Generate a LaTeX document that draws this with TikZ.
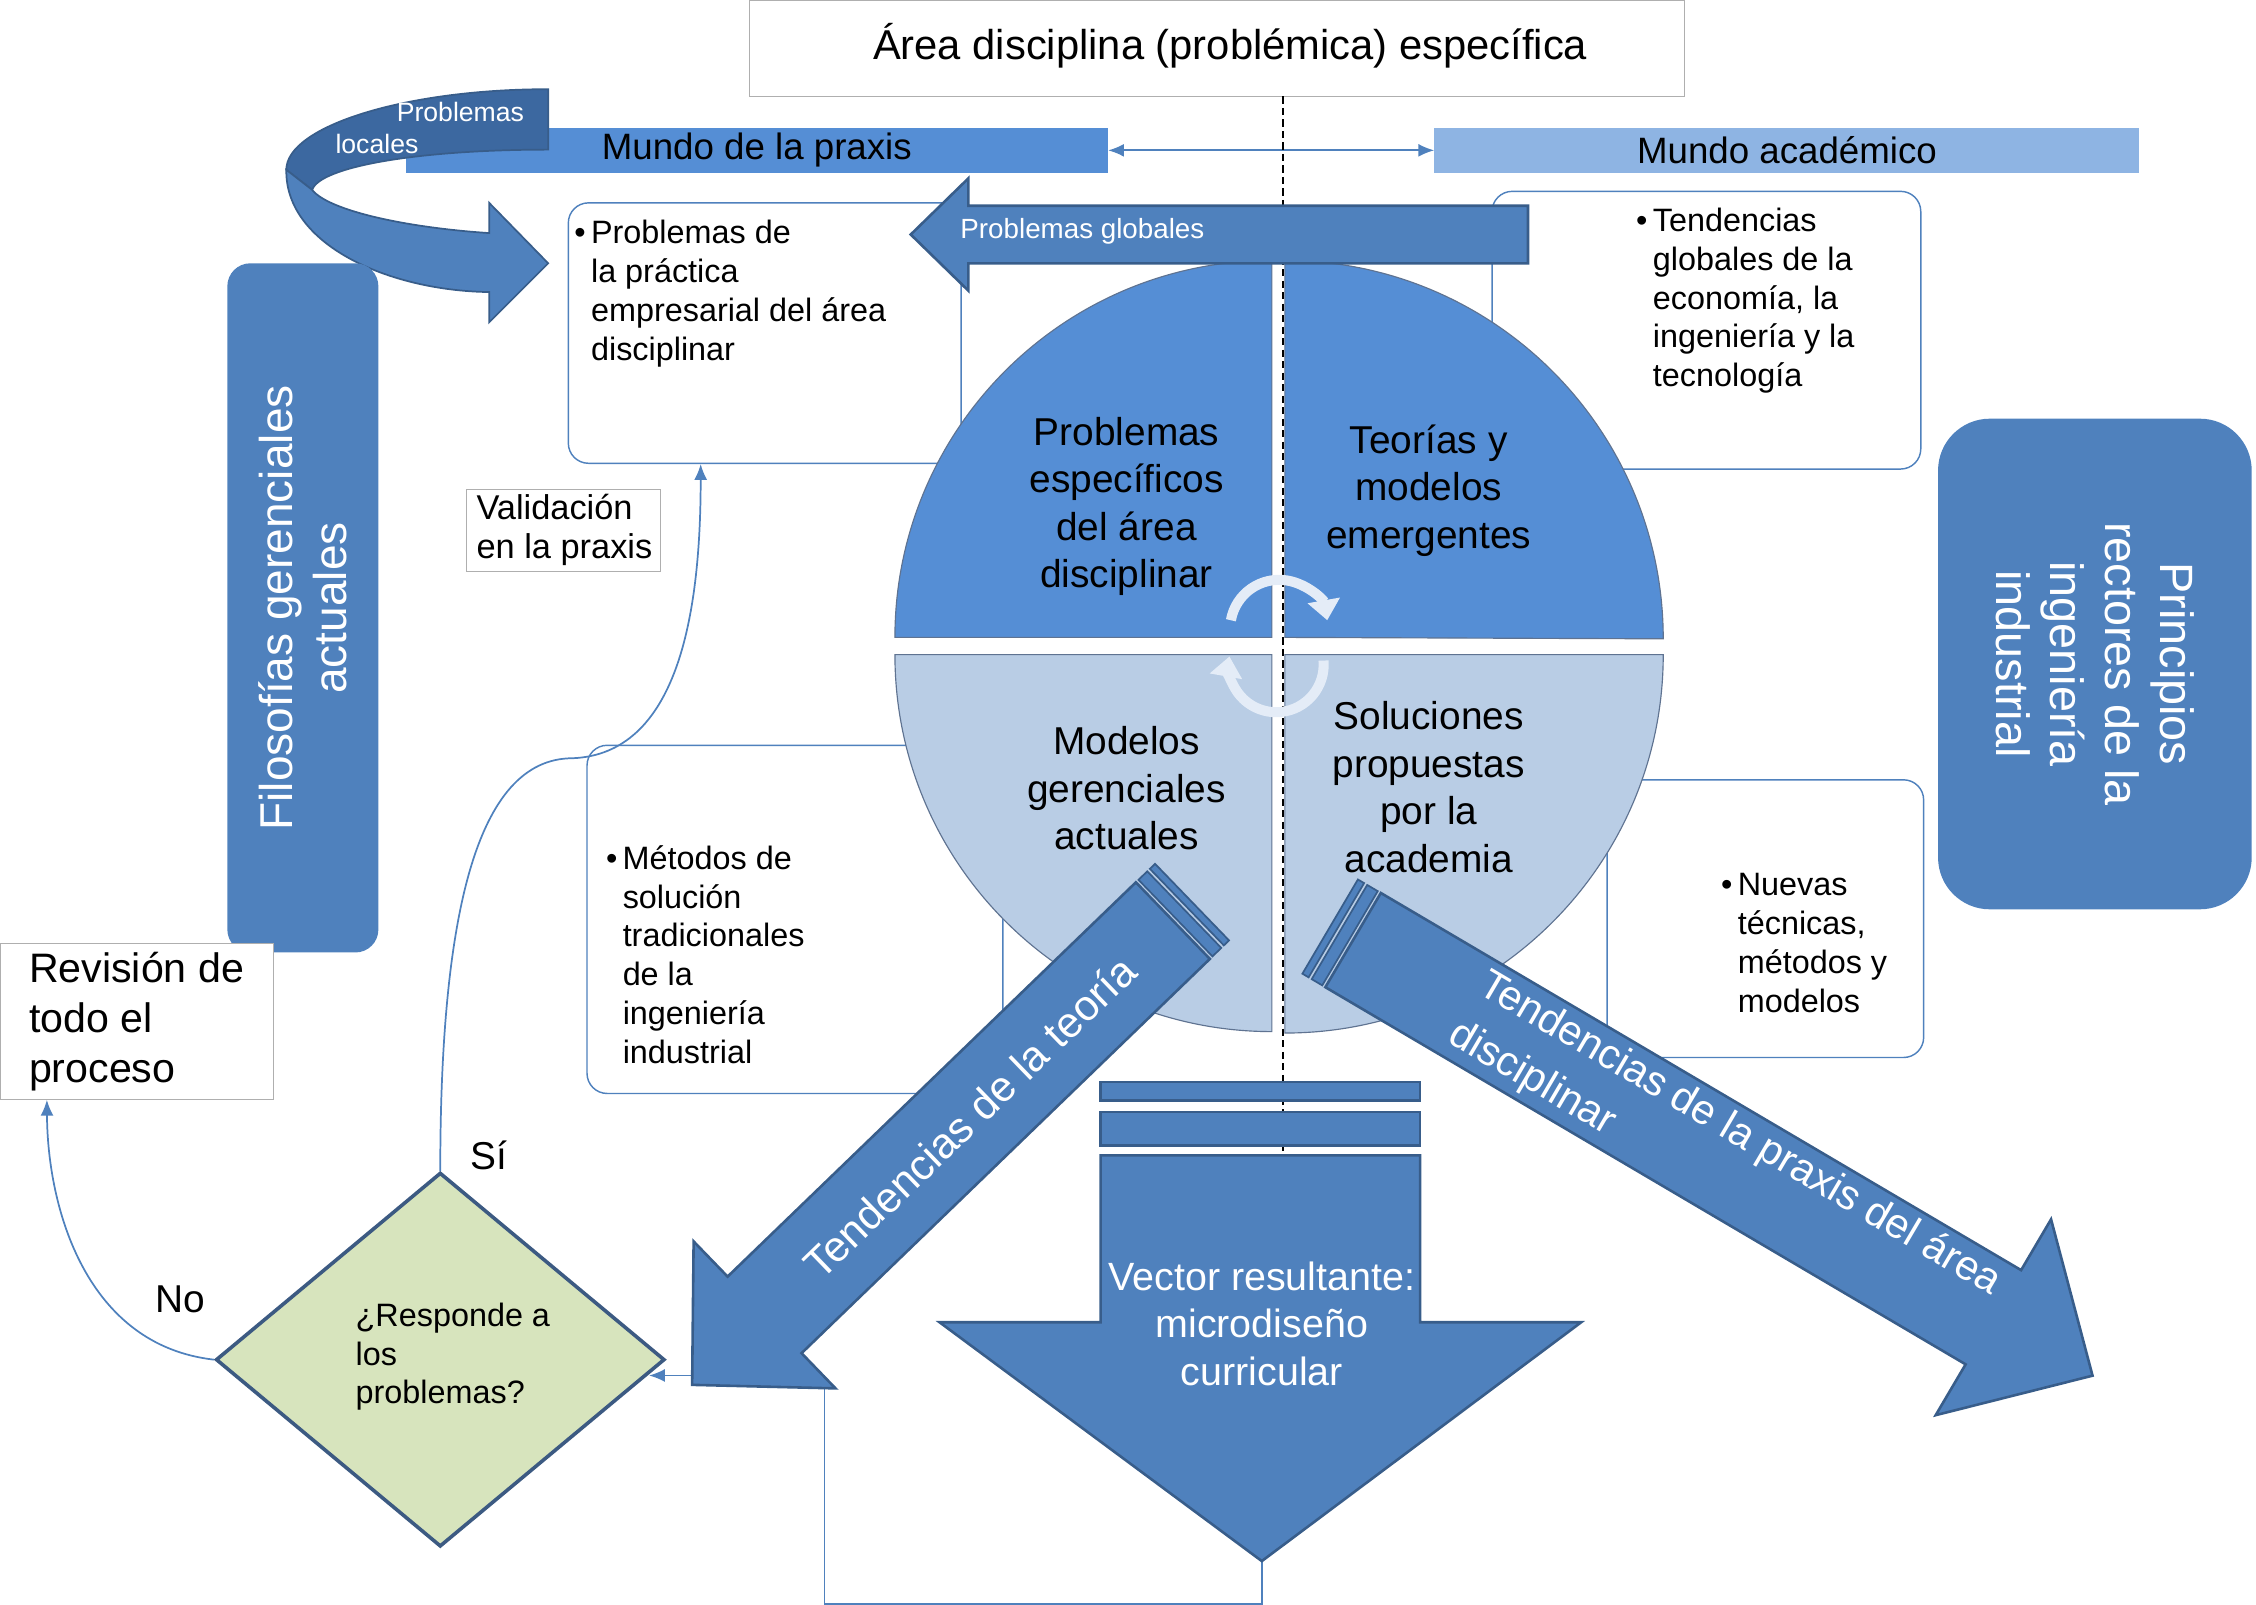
\documentclass[tikz,border=0pt]{standalone}
\usepackage{fontspec}
\setmainfont{Liberation Sans}
\usetikzlibrary{arrows.meta,shapes.geometric,positioning}
\definecolor{praxisblue}{RGB}{85,142,213}
\definecolor{acadblue}{RGB}{142,180,227}
\definecolor{arrowblue}{RGB}{79,129,189}
\definecolor{arrowline}{RGB}{56,93,138}
\definecolor{ribbondark}{RGB}{60,104,160}
\definecolor{quadlight}{RGB}{185,205,229}
\definecolor{quadline}{RGB}{95,115,145}
\definecolor{graybord}{RGB}{175,175,175}
\definecolor{diamfill}{RGB}{215,228,189}
\definecolor{diamline}{RGB}{60,90,130}
\definecolor{cycwhite}{RGB}{228,236,247}
\newcommand{\fsz}[2]{\fontsize{#1}{#2}\selectfont}
\newcommand{\bind}{\hphantom{\textbullet\,}}
\tikzset{
    topbox/.style={rectangle, draw=graybord, fill=white, line width=0.8pt, inner sep=0pt},
    bar/.style={rectangle, inner sep=0pt, minimum height=31pt, font=\fsz{25.5}{30}},
    bulbox/.style={rectangle, draw=arrowblue, fill=white, rounded corners=14pt, line width=1pt},
    bultext/.style={anchor=west, align=left, inner sep=0pt, font=\fsz{22.5}{27}},
    quadtext/.style={align=center, inner sep=0pt, font=\fsz{27}{33}},
    sidebox/.style={rectangle, fill=arrowblue, text=white, align=center},
    graybox/.style={rectangle, draw=graybord, fill=white, line width=0.8pt},
    blockarrow/.style={fill=arrowblue, draw=arrowline, line width=1.8pt, line join=miter},
    stripe/.style={fill=arrowblue, draw=arrowline, line width=1.2pt},
    divider/.style={draw=black, dash pattern=on 5pt off 3pt, line width=1.3pt},
    cyc/.style={draw=cycwhite, line width=7pt, -{Triangle[length=14pt,width=22pt]}},
    conn/.style={->, draw=arrowblue, line width=1.2pt},
    dbl/.style={<->, draw=arrowblue, line width=1.2pt}
}
\begin{document}
\begin{tikzpicture}[x=1pt, y=-1pt, >={Latex[length=11pt,width=9pt]}]
\useasboundingbox (0,0) rectangle (1568,1115.5);

\node[topbox, minimum width=650pt, minimum height=67pt] (area) at (846,33.5) {};
\node[font=\fsz{29}{34}] (areatxt) at (855,32) {Área disciplina (problémica) específica};
\node[bar, fill=praxisblue, minimum width=488pt] (praxis) at (526,104.5) {Mundo de la praxis};
\node[bar, fill=acadblue, minimum width=490pt] (acad) at (1242,104.5) {Mundo académico};
\draw[dbl] (praxis) -- (acad);

\node[bulbox, minimum width=273pt, minimum height=181pt] (pract) at (531.5,231.5) {};
\node[bultext] (practtxt) at (399,204) {\textbullet\,Problemas de\\\bind la práctica\\\bind empresarial del área\\\bind disciplinar};
\node[bulbox, minimum width=298pt, minimum height=193pt] (glob) at (1186,229.5) {};
\node[bultext] (globtxt) at (1137,209) {\textbullet\,Tendencias\\\bind globales de la\\\bind economía, la\\\bind ingeniería y la\\\bind tecnología};
\node[bulbox, minimum width=289pt, minimum height=242pt] (metod) at (552.5,639) {};
\node[bultext] (metodtxt) at (421,663.5) {\textbullet\,Métodos de\\\bind solución\\\bind tradicionales\\\bind de la\\\bind ingeniería\\\bind industrial};
\node[bulbox, minimum width=220pt, minimum height=193pt] (nuevas) at (1227,638.5) {};
\node[bultext] (nuevastxt) at (1196,655.5) {\textbullet\,Nuevas\\\bind técnicas,\\\bind métodos y\\\bind modelos};

\filldraw[fill=praxisblue, draw=quadline, line width=0.8pt] (884,443) -- (622,443) arc[start angle=180, end angle=270, radius=262] -- cycle;
\filldraw[fill=praxisblue, draw=quadline, line width=0.8pt] (893,443) -- (893,181) arc[start angle=270, end angle=360, radius=263] -- cycle;
\filldraw[fill=quadlight, draw=quadline, line width=0.8pt] (884,455) -- (622,455) arc[start angle=180, end angle=90, radius=262] -- cycle;
\filldraw[fill=quadlight, draw=quadline, line width=0.8pt] (893,455) -- (1156,455) arc[start angle=0, end angle=90, radius=263] -- cycle;
\draw[divider] (892,67) -- (892,836);
\draw[cyc] (889,437) ++(190:34) arc[start angle=190, end angle=350, radius=34];
\draw[cyc] (887,462) ++(-5:33) arc[start angle=-5, end angle=190, radius=33];

\node[quadtext] (q1) at (783,352) {Problemas\\específicos\\del área\\disciplinar};
\node[quadtext] (q2) at (993,341) {Teorías y\\modelos\\emergentes};
\node[quadtext] (q3) at (783,548) {Modelos\\gerenciales\\actuales};
\node[quadtext] (q4) at (993,547) {Soluciones\\propuestas\\por la\\academia};

\draw[blockarrow] (1062,143) -- (673,143) -- (673,124) -- (633,163) -- (673,202) -- (673,183) -- (1062,183) -- cycle;
\node[anchor=west, text=white, font=\fsz{19.3}{23}] (globales) at (664,161) {Problemas globales};

\filldraw[fill=ribbondark, draw=arrowline, line width=1.2pt] (381,62) .. controls (281,62) and (199,88) .. (199,118) -- (217,132) .. controls (222,116) and (290,104) .. (381,104) -- cycle;
\filldraw[fill=arrowblue, draw=arrowline, line width=1.2pt] (199,118) .. controls (198,170) and (270,202) .. (340,203) -- (340,224) -- (381,183) -- (340,141) -- (340,162) .. controls (280,158) and (228,146) .. (217,132) -- cycle;
\node[text=white, font=\fsz{18.5}{22}] (loc1) at (320,78) {Problemas};
\node[text=white, font=\fsz{18.5}{22}] (loc2) at (262,100) {locales};

\node[sidebox, rotate=90, minimum width=479pt, minimum height=105pt, rounded corners=16pt, font=\fsz{32}{38}] (filo) at (210.5,422.5) {Filosofías gerenciales\\actuales};
\node[sidebox, rotate=-90, minimum width=341pt, minimum height=218pt, rounded corners=36pt, font=\fsz{32.5}{38}] (princ) at (1456,461.5) {Principios\\rectores de la\\ingeniería\\industrial};

\node[graybox, minimum width=135pt, minimum height=57pt] (valid) at (391.5,368.5) {};
\node[anchor=west, align=left, inner sep=0pt, font=\fsz{23.9}{27}] (validtxt) at (331,368.5) {Validación\\en la praxis};
\node[graybox, minimum width=190pt, minimum height=108pt] (rev) at (95,710) {};
\node[anchor=west, align=left, inner sep=0pt, font=\fsz{28.6}{35}] (revtxt) at (20,710) {Revisión de\\todo el\\proceso};

\node[diamond, draw=diamline, fill=diamfill, line width=2.5pt, minimum width=312pt, minimum height=260pt, inner sep=0pt] (resp) at (306,945) {};
\node[anchor=west, align=left, inner sep=0pt, font=\fsz{22.5}{27}] (resptxt) at (247,943) {¿Responde a\\los\\problemas?};
\node[font=\fsz{27}{32}] (si) at (340,803) {Sí};
\node[font=\fsz{27}{32}] (no) at (125,903) {No};

\coordinate (vtip) at (877,1085);
\coordinate (loopc) at (573,956);
\coordinate (rin) at (resp.-4.4);
\draw[conn] (resp.north) .. controls (306,640) and (330,527) .. (398,527) .. controls (470,524) and (487,430) .. ([xshift=-44.5pt]pract.south);
\draw[conn] (resp.west) .. controls (60,935) and (33,840) .. ([xshift=33pt]rev.south west);
\draw[conn] (vtip) -- (877,1115) -| (loopc) -- (rin |- loopc);

\draw[blockarrow] (765,752) rectangle (987,765);
\draw[blockarrow] (765,773) rectangle (987,796);
\draw[blockarrow] (765,803) -- (987,803) -- (987,919) -- (1099,919) -- (vtip) -- (653,919) -- (765,919) -- cycle;
\node[text=white, align=center, font=\fsz{27.4}{33}] (vec) at (877,920) {Vector resultante:\\microdiseño\\curricular};

\begin{scope}[shift={(828.5,627)}, rotate=224]
    \draw[stripe] (0,-37) rectangle (5,37);
    \draw[stripe] (7.5,-37) rectangle (16,37);
    \draw[blockarrow] (18.5,-37) -- (413,-37) -- (413,-71) -- (483,0) -- (413,71) -- (413,37) -- (18.5,37) -- cycle;
    \node[text=white, rotate=44, font=\fsz{29.7}{34}] (teoria) at (215,0) {Tendencias de la teoría};
\end{scope}
\begin{scope}[shift={(924.5,644)}, rotate=-30.5]
    \draw[stripe] (0,-38) rectangle (5,38);
    \draw[stripe] (7.5,-38) rectangle (16,38);
    \draw[blockarrow] (18.5,-38) -- (535,-38) -- (535,-79) -- (615,0) -- (535,79) -- (535,38) -- (18.5,38) -- cycle;
    \node[text=white, rotate=-30.5, align=left, font=\fsz{29}{40}] (praxisdiag) at (318.5,0) {Tendencias de la praxis del área\\disciplinar};
\end{scope}
\end{tikzpicture}
\end{document}
